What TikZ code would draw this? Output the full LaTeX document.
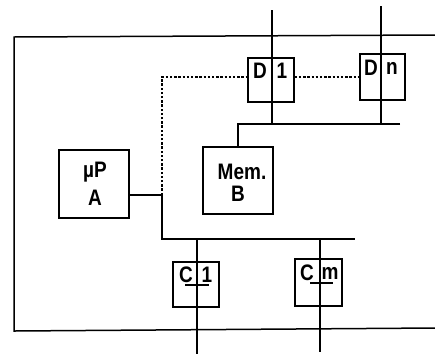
\documentclass[tikz,border=0pt]{standalone}
\usepackage{graphicx}
\usepackage{fontspec}
\setmainfont{Liberation Sans}
\newcommand{\tallt}[1]{\scalebox{1}[1.18]{#1}}
\begin{document}
\begin{tikzpicture}[x=1pt,y=-1pt,
  unit/.style={draw,line width=1.4pt,rectangle,inner sep=0pt},
  wire/.style={line width=1.5pt},
  dots/.style={line width=2pt,dash pattern=on 2.4pt off 1.8pt},
  lbl/.style={font=\fontsize{19}{21}\selectfont\bfseries,inner sep=0pt}]
\useasboundingbox (0,0) rectangle (435,354);
% frame
\coordinate (ftr) at (435,35);
\coordinate (ftl) at (14,37);
\coordinate (fbl) at (14,331);
\coordinate (fbr) at (435,328);
\draw[wire] (ftr) -- (ftl) -- (fbl) -- (fbr);
% boxes
\node[unit,minimum width=70pt,minimum height=68pt] (uP) at (94,184) {};
\node[unit,minimum width=70pt,minimum height=67pt] (mem) at (238,180.5) {};
\node[unit,minimum width=46pt,minimum height=44pt] (D1) at (271,80) {};
\node[unit,minimum width=45pt,minimum height=46pt] (Dn) at (382.5,77) {};
\node[unit,minimum width=46pt,minimum height=45pt] (C1) at (196,284.5) {};
\node[unit,minimum width=47pt,minimum height=47pt] (Cm) at (318.5,282.5) {};
% labels
\node[lbl] (tuP) at (95,172) {\tallt{µP}};
\node[lbl] (tA) at (95,198) {\tallt{A}};
\node[lbl] (tmem) at (242,172) {\tallt{Mem.}};
\node[lbl] (tB) at (238,194) {\tallt{B}};
\node[lbl] (tD1a) at (260,71) {\tallt{D}};
\node[lbl] (tD1b) at (282,71) {\tallt{1}};
\node[lbl] (tDna) at (371,68) {\tallt{D}};
\node[lbl] (tDnb) at (392,68) {\tallt{n}};
\node[lbl] (tC1a) at (186,275) {\tallt{C}};
\node[lbl] (tC1b) at (207,275) {\tallt{1}};
\node[lbl] (tCma) at (307,273) {\tallt{C}};
\node[lbl] (tCmb) at (330,273) {\tallt{m}};
% upper bus
\coordinate (d1top) at (272,10);
\coordinate (d1bus) at (272,124);
\coordinate (dntop) at (381,6);
\coordinate (dnbus) at (381,124);
\coordinate (busR) at (400,124);
\draw[wire] (d1top) -- (d1bus);
\draw[wire] (dntop) -- (dnbus);
\draw[wire] (busR) -- (mem.north |- busR) -- (mem.north);
% lower bus
\coordinate (j1) at (162,195);
\coordinate (j2) at (162,239);
\coordinate (lbR) at (355,239);
\coordinate (c1top) at (197,239);
\coordinate (c1bot) at (197,354);
\coordinate (cmtop) at (320,239);
\coordinate (cmbot) at (320,352);
\draw[wire] (uP.east |- j1) -- (j1) -- (j2) -- (lbR);
\draw[wire] (c1top) -- (c1bot);
\draw[wire] (cmtop) -- (cmbot);
% underlines in C boxes
\coordinate (u1a) at (185,285);
\coordinate (u1b) at (209,285);
\coordinate (uma) at (310,283);
\coordinate (umb) at (333,283);
\draw[wire] (u1a) -- (u1b);
\draw[wire] (uma) -- (umb);
% dotted control line
\coordinate (k1) at (162,77);
\draw[dots] (j1) -- (k1) -- (D1.west |- k1);
\draw[dots] (D1.east |- k1) -- (Dn.west |- k1);
\end{tikzpicture}
\end{document}
